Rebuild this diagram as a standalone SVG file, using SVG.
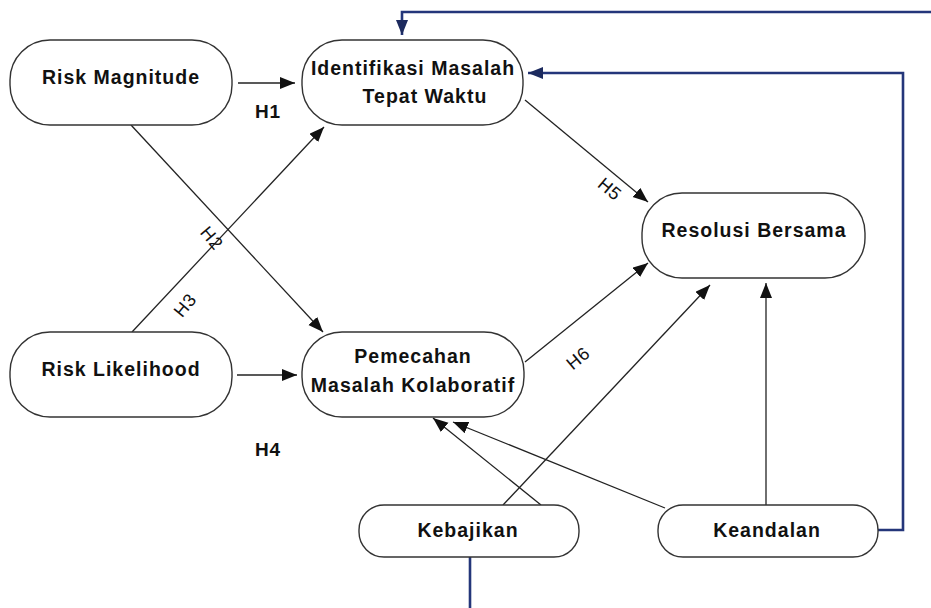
<svg xmlns="http://www.w3.org/2000/svg" width="931" height="608" viewBox="0 0 931 608">
  <defs>
    <style>
      .box { fill: #ffffff; stroke: #333333; stroke-width: 1.4; }
      .lbl { font-family: "Liberation Sans", Arial, sans-serif; font-weight: bold; font-size: 19.5px; letter-spacing: 1px; fill: #111111; text-anchor: middle; }
      .hyp { font-family: "Liberation Sans", Arial, sans-serif; font-size: 18px; letter-spacing: 0.8px; fill: #111111; text-anchor: middle; }
      .hypb { font-family: "Liberation Sans", Arial, sans-serif; font-weight: bold; font-size: 19px; letter-spacing: 0.8px; fill: #111111; text-anchor: middle; }
      .edge { fill: none; stroke: #222222; stroke-width: 1.3; marker-end: url(#arrow); }
      .blue { fill: none; stroke: #24367a; stroke-width: 2.6; }
      .bluearrow { marker-end: url(#barrow); }
    </style>
    <marker id="arrow" markerUnits="userSpaceOnUse" markerWidth="16" markerHeight="13" refX="15" refY="6" orient="auto">
      <path d="M0,0 L15,6 L0,12 z" fill="#111111"/>
    </marker>
    <marker id="barrow" markerUnits="userSpaceOnUse" markerWidth="16" markerHeight="13" refX="15" refY="6" orient="auto">
      <path d="M0,0 L15,6 L0,12 z" fill="#1c2a5e"/>
    </marker>
  </defs>
  <rect x="0" y="0" width="931" height="608" fill="#ffffff"/>

  <g id="connectors">
    <line class="edge" x1="238" y1="83" x2="295" y2="83"/>
    <line class="edge" x1="237" y1="375" x2="297" y2="375"/>
    <line class="edge" x1="131" y1="125" x2="323" y2="332"/>
    <line class="edge" x1="132" y1="332" x2="324" y2="127"/>
    <line class="edge" x1="525" y1="100" x2="648" y2="202"/>
    <line class="edge" x1="525" y1="362" x2="648" y2="263"/>
    <line class="edge" x1="503" y1="505" x2="710" y2="285"/>
    <line class="edge" x1="541" y1="505" x2="433" y2="418"/>
    <line class="edge" x1="665" y1="508" x2="453" y2="422"/>
    <line class="edge" x1="766" y1="505" x2="766" y2="283"/>
    <polyline class="blue bluearrow" points="931,12 402,12 402,35"/>
    <polyline class="blue bluearrow" points="878,530 903,530 903,73 528,73"/>
    <line class="blue" x1="470" y1="557" x2="470" y2="608"/>
    <text class="hypb" x="268" y="118">H1</text>
    <text class="hypb" x="268" y="456">H4</text>
    <text class="hyp" transform="translate(212,238) rotate(50)" dy="0.35em">H2</text>
    <text class="hyp" transform="translate(185,305) rotate(-50)" dy="0.35em">H3</text>
    <text class="hyp" transform="translate(610,189) rotate(40)" dy="0.35em">H5</text>
    <text class="hyp" transform="translate(578,358) rotate(-40)" dy="0.35em">H6</text>
  </g>

  <g id="risk-magnitude">
    <rect class="box" x="10" y="40" width="222" height="85" rx="40" ry="40"/>
    <text class="lbl" x="121" y="84">Risk Magnitude</text>
  </g>
  <g id="identifikasi">
    <rect class="box" x="302" y="40" width="221" height="85" rx="40" ry="40"/>
    <text class="lbl" x="413" y="75">Identifikasi Masalah</text>
    <text class="lbl" x="425" y="103">Tepat Waktu</text>
  </g>
  <g id="resolusi">
    <rect class="box" x="642" y="193" width="223" height="85" rx="40" ry="40"/>
    <text class="lbl" x="754" y="237">Resolusi Bersama</text>
  </g>
  <g id="risk-likelihood">
    <rect class="box" x="10" y="332" width="222" height="85" rx="40" ry="40"/>
    <text class="lbl" x="121" y="376">Risk Likelihood</text>
  </g>
  <g id="pemecahan">
    <rect class="box" x="302" y="332" width="222" height="85" rx="40" ry="40"/>
    <text class="lbl" x="413" y="363">Pemecahan</text>
    <text class="lbl" x="413" y="392">Masalah Kolaboratif</text>
  </g>
  <g id="kebajikan">
    <rect class="box" x="359" y="505" width="220" height="52" rx="25" ry="25"/>
    <text class="lbl" x="468" y="537">Kebajikan</text>
  </g>
  <g id="keandalan">
    <rect class="box" x="658" y="505" width="220" height="52" rx="25" ry="25"/>
    <text class="lbl" x="767" y="537">Keandalan</text>
  </g>
</svg>
